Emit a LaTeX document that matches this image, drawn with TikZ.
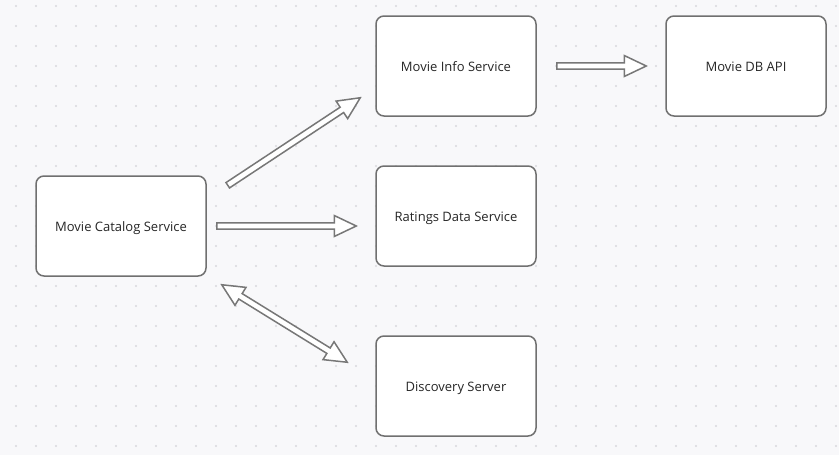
\documentclass[tikz,border=0pt]{standalone}
\usepackage{fontspec}
\setmainfont{Open Sans}
\usetikzlibrary{calc}
\definecolor{bg}{HTML}{F8F8FA}
\definecolor{dotc}{HTML}{D8D8DC}
\definecolor{boxc}{HTML}{707070}
\definecolor{arrc}{HTML}{777777}
\definecolor{txt}{HTML}{262626}
\newcommand{\hollowarrow}[2]{%
  \coordinate (hA) at (#1);
  \coordinate (hB) at (#2);
  \coordinate (hC) at ($(hB)!22pt!(hA)$);
  \filldraw[arr] ($(hA)!3.2pt!90:(hB)$) -- ($(hC)!3.2pt!-90:(hA)$) -- ($(hC)!10.5pt!-90:(hA)$) -- (hB)
    -- ($(hC)!10.5pt!90:(hA)$) -- ($(hC)!3.2pt!90:(hA)$) -- ($(hA)!3.2pt!-90:(hB)$) -- cycle;}
\newcommand{\hollowdarrow}[2]{%
  \coordinate (hA) at (#1);
  \coordinate (hB) at (#2);
  \coordinate (hC) at ($(hA)!22pt!(hB)$);
  \coordinate (hD) at ($(hB)!22pt!(hA)$);
  \filldraw[arr] (hA) -- ($(hC)!10.5pt!90:(hB)$) -- ($(hC)!3.2pt!90:(hB)$) -- ($(hD)!3.2pt!-90:(hA)$)
    -- ($(hD)!10.5pt!-90:(hA)$) -- (hB) -- ($(hD)!10.5pt!90:(hA)$) -- ($(hD)!3.2pt!90:(hA)$)
    -- ($(hC)!3.2pt!-90:(hB)$) -- ($(hC)!10.5pt!-90:(hB)$) -- cycle;}
\begin{document}
\begin{tikzpicture}[x=1pt,y=-1pt,
  box/.style={draw=boxc, line width=1.5pt, rounded corners=8pt, fill=white,
    minimum height=100pt, inner sep=0pt, text=txt, font=\fontsize{13}{15}\selectfont,
    text height=12.5pt, text depth=1.5pt},
  arr/.style={draw=arrc, fill=white, line width=1.5pt, line join=miter}]
\fill[bg] (0,0) rectangle (839,455);
\useasboundingbox (0,0) rectangle (839,455);
\foreach \x in {16,36,...,836} \foreach \y in {6,26,...,446} \fill[dotc] (\x,\y) circle (1.2pt);
\node[box, minimum width=170pt] (cat) at (121,226) {Movie Catalog Service};
\node[box, minimum width=160pt] (info) at (456,66) {Movie Info Service};
\node[box, minimum width=160pt] (rat) at (456,216) {Ratings Data Service};
\node[box, minimum width=160pt] (disc) at (456,386) {Discovery Server};
\node[box, minimum width=160pt] (db) at (746,66) {Movie DB API};
\hollowarrow{$(cat.north east)+(21,10)$}{$(info.south west)+(-15,-19)$}
\hollowarrow{$(cat.east)+(10,0)$}{$(rat.west)+(-19,10)$}
\hollowdarrow{$(cat.south east)+(15,8)$}{$(disc.north west)+(-28,27)$}
\hollowarrow{$(info.east)+(20,0)$}{$(db.west)+(-19,0)$}
\end{tikzpicture}
\end{document}
